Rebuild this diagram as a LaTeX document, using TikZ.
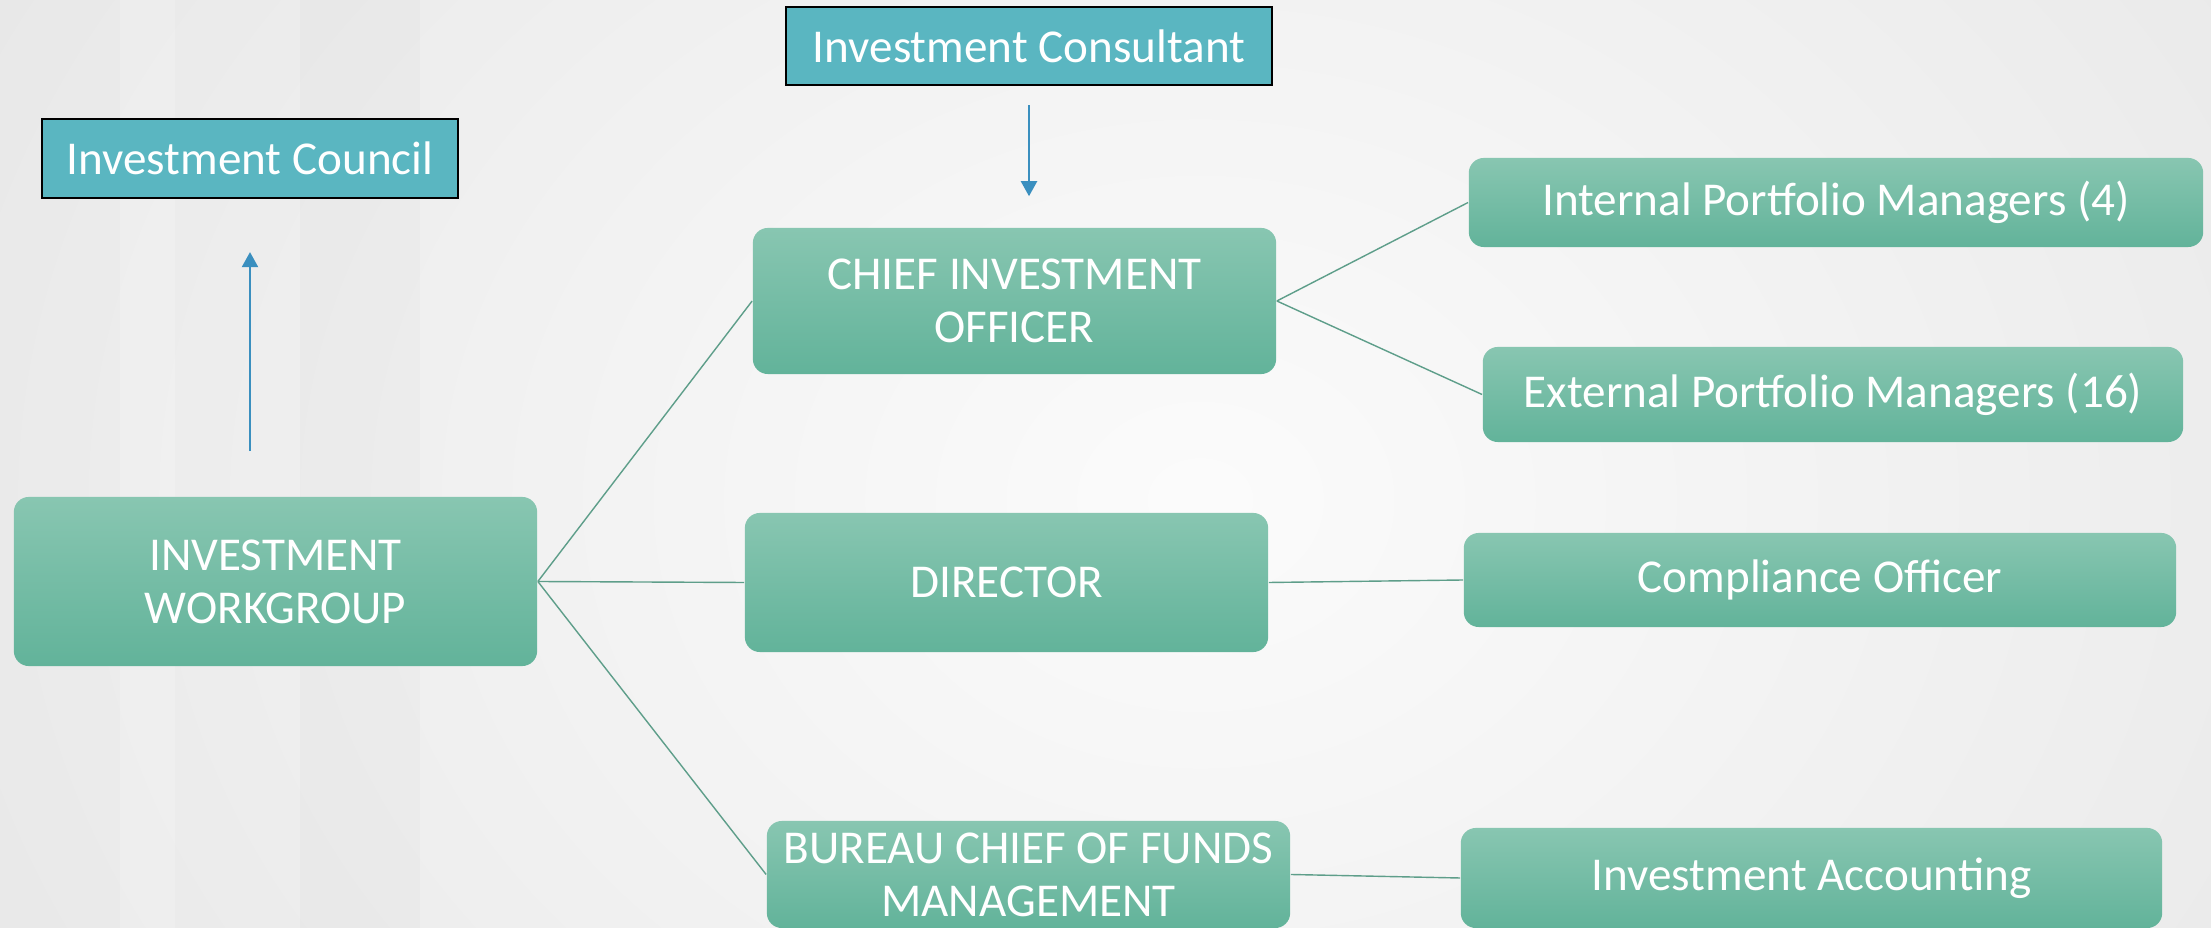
\documentclass[tikz,border=0pt]{standalone}
\usepackage{fontspec}
\setmainfont{Carlito}
\usetikzlibrary{positioning,arrows.meta}
\definecolor{bggray}{HTML}{E6E6E6}
\definecolor{boxtop}{HTML}{88C6B1}
\definecolor{boxbot}{HTML}{62B39A}
\definecolor{headblue}{HTML}{5AB6C1}
\definecolor{linkgreen}{HTML}{5E9E8A}
\definecolor{arrowblue}{HTML}{3A8FBF}
\begin{document}
\begin{tikzpicture}[x=0.01cm, y=-0.01cm,
    main/.style = {rounded corners=0.15cm, top color=boxtop, bottom color=boxbot, text=white, align=center, inner sep=0pt, font=\fontsize{13.4}{15.1}\selectfont},
    head/.style = {draw=black, line width=0.6pt, fill=headblue, text=white, inner sep=0pt, font=\fontsize{13.4}{15.1}\selectfont},
    link/.style = {draw=linkgreen, line width=0.4pt},
    up/.style = {draw=arrowblue, line width=0.6pt, -{Triangle[length=0.15cm, width=0.16cm]}}]

      % blurred backdrop
      \useasboundingbox (0,0) rectangle (2211,928);
      \clip (0,0) rectangle (2211,928);
      \shade[inner color=white!85!bggray, outer color=bggray] (-300,-700) rectangle (2700,1700);
      \fill[white, opacity=0.18] (120,0) rectangle (175,928);
      \fill[black, opacity=0.015] (300,0) rectangle (420,928);

      \node[head, minimum width=4.16cm, minimum height=0.79cm] (1) at (250,158.5) {Investment Council};
      \node[head, minimum width=4.86cm, minimum height=0.78cm] (2) at (1029,46) {Investment Consultant};

      \node[main, minimum width=5.23cm, minimum height=1.69cm] (3) at (275.5,581.5) {INVESTMENT\\WORKGROUP};

      \node[main, minimum width=5.23cm, minimum height=1.46cm] (4) at (1014.5,301) {CHIEF INVESTMENT\\OFFICER};
      \node[main, minimum width=5.23cm, minimum height=1.39cm] (5) at (1006.5,582.5) {DIRECTOR};
      \node[main, minimum width=5.23cm, minimum height=1.07cm] (6) at (1028.5,874.5) {BUREAU CHIEF OF FUNDS\\MANAGEMENT};

      \node[main, minimum width=7.34cm, minimum height=0.89cm] (7) at (1836,202.5) {Internal Portfolio Managers (4)};
      \node[main, minimum width=7.00cm, minimum height=0.95cm] (8) at (1833,394.5) {External Portfolio Managers (16)};
      \node[main, minimum width=7.12cm, minimum height=0.94cm] (9) at (1820,580) {Compliance Officer};
      \node[main, minimum width=7.01cm, minimum height=1.00cm] (10) at (1811.5,878) {Investment Accounting};

      \draw[up, shorten <=0.45cm, shorten >=0.53cm] (1.south |- 3.north) -- (1.south);
      \draw[up, shorten <=0.19cm, shorten >=0.31cm] (2.south) -- (2.south |- 4.north);

      \draw[link] (3.east) -- (4.west);
      \draw[link] (3.east) -- (5.west);
      \draw[link] (3.east) -- (6.west);
      \draw[link] (4.east) -- (7.west);
      \draw[link] (4.east) -- (8.west);
      \draw[link] (5.east) -- (9.west);
      \draw[link] (6.east) -- (10.west);
    \end{tikzpicture}
\end{document}
